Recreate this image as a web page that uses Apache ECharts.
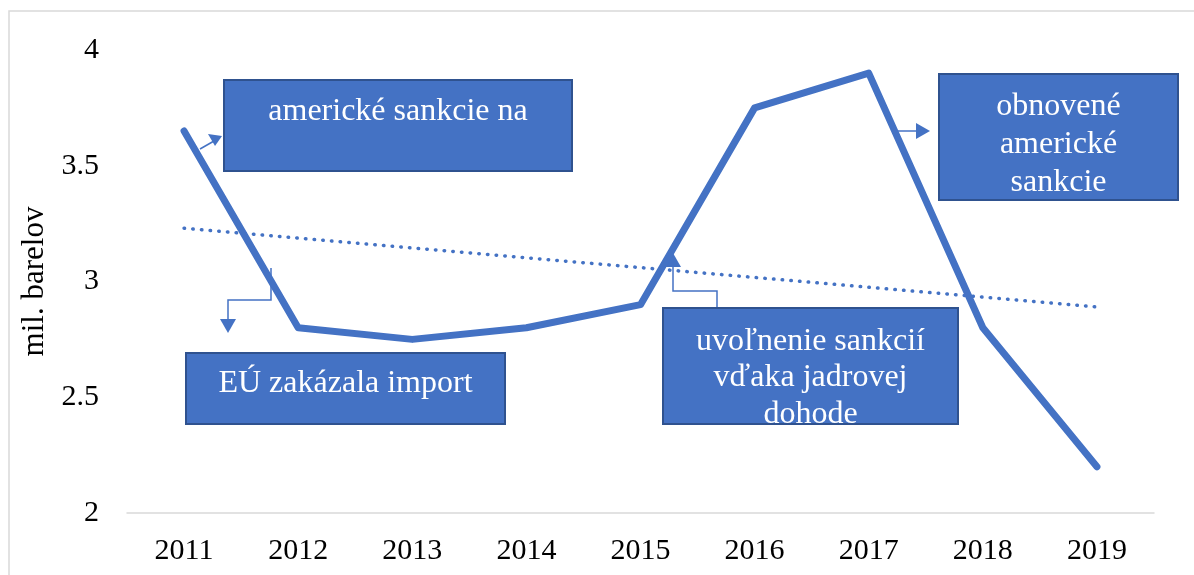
<!DOCTYPE html>
<html lang="sk">
<head>
    <meta charset="UTF-8">
    <title>Export ropy</title>
    <script src="https://cdn.jsdelivr.net/npm/echarts@6/dist/echarts.min.js"></script>
    <style>
        html, body {margin: 0; padding: 0; background: #fff;}
        #chart {width: 1194px; height: 575px;}
    </style>
</head>
<body>
<div id="chart"></div>
<script>
    // data
    var years = ['2011', '2012', '2013', '2014', '2015', '2016', '2017', '2018', '2019'];
    var barrels = [3.65, 2.8, 2.75, 2.8, 2.9, 3.75, 3.9, 2.8, 2.2];
    var trendStart = 3.23;
    var trendEnd = 2.89;
    var yMin = 2, yMax = 4, yStep = 0.5;

    var blue = '#4472C4';
    var boxBorder = '#2F528F';
    var serif = '"Liberation Serif", "Times New Roman", serif';

    var trend = years.map(function (y, i) {
        if (i === 0) return trendStart;
        if (i === years.length - 1) return trendEnd;
        return null;
    });

    function box(x, y, w, h, lines, textTop, lineH) {
        return {
            type: 'group',
            children: [{
                type: 'rect',
                shape: {x: x, y: y, width: w, height: h},
                style: {fill: blue, stroke: boxBorder, lineWidth: 2}
            }, {
                type: 'text',
                style: {
                    text: lines.join('\n'),
                    x: x + w / 2, y: textTop,
                    align: 'center', verticalAlign: 'top',
                    lineHeight: lineH,
                    fill: '#fff',
                    font: '32px ' + serif
                }
            }]
        };
    }
    function conn(points) {
        return {type: 'polyline', shape: {points: points}, style: {stroke: blue, lineWidth: 1.5, fill: null}};
    }
    function head(points) {
        return {type: 'polygon', shape: {points: points}, style: {fill: blue}};
    }

    var chart = echarts.init(document.getElementById('chart'));
    chart.setOption({
        animation: false,
        grid: {left: 127, right: 40, top: 50, bottom: 62},
        xAxis: {
            type: 'category',
            data: years,
            boundaryGap: true,
            axisLine: {lineStyle: {color: '#d9d9d9', width: 1.5}},
            axisTick: {show: false},
            axisLabel: {color: '#000', fontFamily: serif, fontSize: 30, margin: 23}
        },
        yAxis: {
            type: 'value',
            min: yMin, max: yMax, interval: yStep,
            name: 'mil. barelov',
            nameLocation: 'middle',
            nameGap: 74,
            nameTextStyle: {color: '#000', fontFamily: serif, fontSize: 31},
            axisLine: {show: false},
            axisTick: {show: false},
            splitLine: {show: false},
            axisLabel: {color: '#000', fontFamily: serif, fontSize: 30, margin: 28}
        },
        series: [{
            name: 'trend',
            type: 'line',
            data: trend,
            connectNulls: true,
            symbol: 'none',
            lineStyle: {color: blue, width: 3.5, type: [0.5, 8.2], cap: 'round'},
            z: 1
        }, {
            name: 'export',
            type: 'line',
            data: barrels,
            symbol: 'none',
            lineStyle: {color: blue, width: 7, cap: 'round', join: 'round'},
            z: 2
        }],
        graphic: [
            {type: 'rect', shape: {x: 9, y: 11, width: 1200, height: 600}, style: {fill: null, stroke: '#d9d9d9', lineWidth: 1.5}, silent: true},
            // sipky
            conn([[200, 149], [214, 141]]),
            head([[222, 136], [208, 134], [215, 146]]),
            conn([[271, 268], [271, 300], [228, 300], [228, 320]]),
            head([[220, 319], [236, 319], [228, 333]]),
            conn([[717, 308], [717, 291], [673, 291], [673, 266]]),
            head([[665, 267], [681, 267], [673, 253]]),
            conn([[895, 131], [916, 131]]),
            head([[916, 123], [916, 139], [930, 131]]),
            // boxy
            box(224, 80, 348, 91, ['americké sankcie na'], 94, 36),
            box(186, 353, 319, 71, ['EÚ zakázala import'], 366, 36),
            box(663, 308, 295, 116, ['uvoľnenie sankcií', 'vďaka jadrovej', 'dohode'], 323, 36.5),
            box(939, 74, 239, 126, ['obnovené', 'americké', 'sankcie'], 88, 38)
        ]
    });
</script>
</body>
</html>
